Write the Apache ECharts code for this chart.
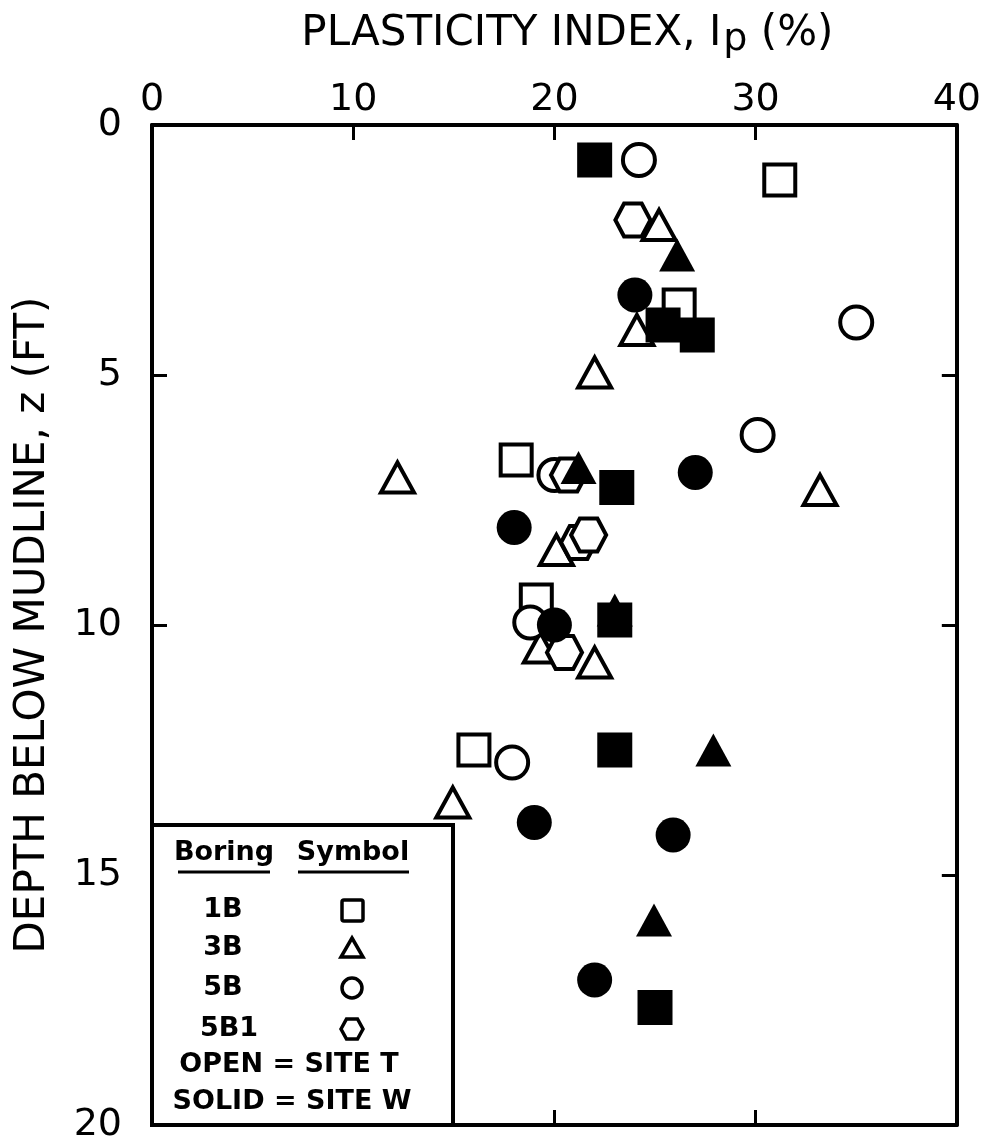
<!DOCTYPE html>
<html>
<head>
<meta charset="utf-8">
<script src="https://cdn.jsdelivr.net/npm/echarts@6/dist/echarts.min.js"></script>
<style>
html,body{margin:0;padding:0;background:#fff;}
#chart{width:984px;height:1145px;}
</style>
</head>
<body>
<div id="chart"></div>
<script>
// ---- data: [plasticity index Ip (%), depth z (ft)] ----
const xTicks = [0, 10, 20, 30, 40];
const yTicks = [0, 5, 10, 15, 20];
const boring1B_open  = [[31.2,1.1],[26.2,3.6],[18.1,6.7],[19.1,9.5],[16.0,12.5]];
const boring1B_solid = [[22.0,0.7],[25.4,4.0],[27.1,4.2],[23.1,7.25],[23.0,9.9],[23.0,12.5],[25.0,17.65]];
const boring3B_open  = [[25.2,2.0],[24.1,4.1],[22.0,4.95],[12.2,7.05],[33.2,7.3],[20.1,8.5],[19.3,10.45],[22.0,10.75],[14.95,13.55]];
const boring3B_solid = [[26.1,2.6],[21.2,6.85],[23.0,9.7],[27.9,12.5],[24.95,15.9]];
const boring5B_open  = [[24.2,0.7],[35.0,3.95],[30.1,6.2],[20.0,7.0],[18.8,9.95],[17.9,12.75]];
const boring5B_solid = [[24.0,3.4],[27.0,6.95],[18.0,8.05],[20.0,10.0],[19.0,13.95],[25.9,14.2],[22.0,17.1]];
const boring5B1_open = [[23.9,1.9],[20.7,7.0],[21.2,8.35],[21.7,8.2],[20.5,10.55]];
const legendRows = ['1B', '3B', '5B', '5B1'];

const FONT = 'DejaVu Sans';
const HEX = 'path://M0,50 L25,6 L75,6 L100,50 L75,94 L25,94 Z';

function openSeries(name, data, symbol, size) {
  return {name, type:'scatter', data, symbol, symbolSize:size,
    itemStyle:{color:'#fff', borderColor:'#000', borderWidth:4, opacity:1}, z:2};
}
function solidSeries(name, data, symbol, size) {
  return {name, type:'scatter', data, symbol, symbolSize:size,
    itemStyle:{color:'#000', borderColor:'#000', borderWidth:0, opacity:1}, z:3};
}

const axisCommonX = {
  type:'value', min:0, max:40, interval:10,
  axisLine:{show:true, onZero:false, lineStyle:{color:'#000', width:4}},
  axisTick:{show:true, inside:true, length:15, lineStyle:{color:'#000', width:3}},
  splitLine:{show:false}
};
const axisCommonY = {
  type:'value', min:0, max:20, interval:5, inverse:true,
  axisLine:{show:true, onZero:false, lineStyle:{color:'#000', width:4}},
  axisTick:{show:true, inside:true, length:15, lineStyle:{color:'#000', width:3}},
  splitLine:{show:false}
};

const chart = echarts.init(document.getElementById('chart'), null, {renderer:'canvas'});

const legendX = 152, legendY = 825;
const symX = 352;
const rowY = [910, 948, 988, 1029];
const LFONT = 'bold 27px "' + FONT + '"';
function ltext(text, x, y) {
  return {type:'text', style:{text, x, y, font:LFONT, fill:'#000',
    textAlign:'center', textVerticalAlign:'middle', align:'center', verticalAlign:'middle'}, z:11};
}

const graphics = [
  {type:'rect', shape:{x:legendX, y:legendY, width:301, height:300},
   style:{fill:'#fff', stroke:'#000', lineWidth:4}, z:10},
  ltext('Boring', 224, 853),
  ltext('Symbol', 353, 853),
  {type:'line', shape:{x1:178, y1:872, x2:270, y2:872}, style:{stroke:'#000', lineWidth:3}, z:11},
  {type:'line', shape:{x1:298, y1:872, x2:409, y2:872}, style:{stroke:'#000', lineWidth:3}, z:11},
  {type:'rect', shape:{x:symX-10, y:rowY[0]-10, width:21, height:21, r:2},
   style:{fill:'#fff', stroke:'#000', lineWidth:3.5}, z:11},
  {type:'polygon', shape:{points:[[symX, rowY[1]-10],[symX+11, rowY[1]+9],[symX-11, rowY[1]+9]]},
   style:{fill:'#fff', stroke:'#000', lineWidth:3.5}, z:11},
  {type:'circle', shape:{cx:symX, cy:rowY[2], r:10},
   style:{fill:'#fff', stroke:'#000', lineWidth:3.5}, z:11},
  {type:'polygon', shape:{points:[[symX-11,rowY[3]],[symX-5.5,rowY[3]-10],[symX+5.5,rowY[3]-10],[symX+11,rowY[3]],[symX+5.5,rowY[3]+10],[symX-5.5,rowY[3]+10]]},
   style:{fill:'#fff', stroke:'#000', lineWidth:3.5}, z:11},
  ltext('OPEN = SITE T', 289, 1065),
  ltext('SOLID = SITE W', 292, 1102)
];
legendRows.forEach((t, i) => graphics.push(ltext(t, i === 3 ? 229 : 223, rowY[i])));

const option = {
  backgroundColor:'#fff',
  animation:false,
  textStyle:{fontFamily:FONT, color:'#000'},
  grid:{left:152, right:24, top:125, bottom:20, containLabel:false},
  xAxis:[
    Object.assign({}, axisCommonX, {
      position:'top',
      axisLabel:{show:true, fontSize:38, color:'#000', fontFamily:FONT, margin:6,
        formatter: v => (xTicks.indexOf(v) >= 0 ? String(v) : '')},
      name:'{a|PLASTICITY INDEX, I}{s|p}{a| (%)}',
      nameLocation:'middle', nameGap:66,
      nameTextStyle:{color:'#000', fontFamily:FONT, padding:[0,0,0,26],
        rich:{a:{fontSize:42, lineHeight:46, verticalAlign:'top', fontFamily:FONT, color:'#000'},
              s:{fontSize:38, lineHeight:46, verticalAlign:'top', padding:[8,0,0,2], fontFamily:FONT, color:'#000'}}}
    }),
    Object.assign({}, axisCommonX, {position:'bottom', axisLabel:{show:false}})
  ],
  yAxis:[
    Object.assign({}, axisCommonY, {
      position:'left',
      axisLabel:{show:true, fontSize:38, color:'#000', fontFamily:FONT, margin:30,
        formatter: v => (yTicks.indexOf(v) >= 0 ? String(v) : '')},
      name:'DEPTH BELOW MUDLINE, z (FT)',
      nameLocation:'middle', nameGap:98, nameRotate:90,
      nameTextStyle:{fontSize:42, color:'#000', fontFamily:FONT}
    }),
    Object.assign({}, axisCommonY, {position:'right', axisLabel:{show:false}})
  ],
  series:[
    openSeries('1B open', boring1B_open, 'rect', 31),
    openSeries('3B open', boring3B_open, 'triangle', [33, 30]),
    openSeries('5B open', boring5B_open, 'circle', 32),
    openSeries('5B1 open', boring5B1_open, HEX, [35, 33]),
    solidSeries('1B solid', boring1B_solid, 'rect', 35),
    solidSeries('3B solid', boring3B_solid, 'triangle', [36, 33]),
    solidSeries('5B solid', boring5B_solid, 'circle', 35)
  ],
  graphic: graphics
};
chart.setOption(option);
</script>
</body>
</html>
